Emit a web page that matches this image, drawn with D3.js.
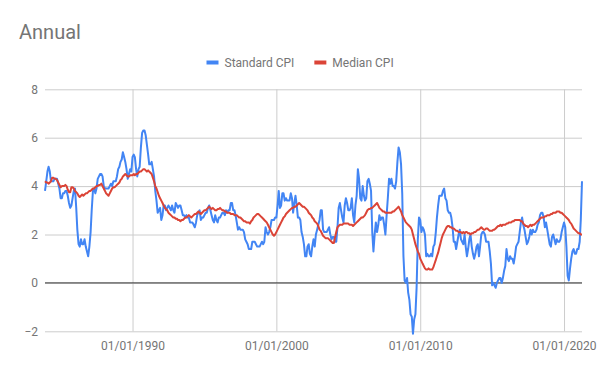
<!DOCTYPE html>
<html>
<head>
<meta charset="utf-8">
<script src="https://cdn.jsdelivr.net/npm/d3@7"></script>
<style>
  body { margin: 0; background: #fff; }
  svg { display: block; font-family: Roboto, Arial, sans-serif; }
</style>
</head>
<body>
<svg id="chart" width="600" height="371"></svg>
<script>
//-------------------Data----------------------------------------

var chartTitle = "Annual";
var seriesNames = ["Standard CPI", "Median CPI"];
var seriesColors = ["#4285F4", "#DB4437"];

// first month of the data, one value per month after that (Dec 1983 -> Apr 2021)
var firstMonth = new Date(1983, 11, 1);
var lastMonth = new Date(2021, 3, 1);

var standardCpi = [
    3.8,
    4.2, 4.6, 4.8, 4.6, 4.2, 4.2, 4.2, 4.3, 4.3, 4.3, 4.1, 3.9,
    3.5, 3.5, 3.7, 3.7, 3.8, 3.8, 3.6, 3.3, 3.1, 3.2, 3.5, 3.8,
    3.9, 3.1, 2.2, 1.6, 1.5, 1.8, 1.6, 1.6, 1.8, 1.5, 1.3, 1.1,
    1.5, 2.1, 3.0, 3.8, 3.9, 3.7, 3.9, 4.3, 4.4, 4.5, 4.5, 4.4,
    4.0, 3.9, 3.9, 3.9, 3.9, 4.0, 4.1, 4.0, 4.2, 4.2, 4.2, 4.4,
    4.7, 4.8, 5.0, 5.1, 5.4, 5.2, 5.0, 4.7, 4.3, 4.5, 4.7, 4.6,
    5.2, 5.3, 5.2, 4.7, 4.4, 4.7, 4.8, 5.6, 6.2, 6.3, 6.3, 6.1,
    5.7, 5.3, 4.9, 4.9, 5.0, 4.7, 4.4, 3.8, 3.4, 2.9, 3.0, 3.1,
    2.6, 2.8, 3.2, 3.2, 3.0, 3.1, 3.2, 3.1, 3.0, 3.2, 3.0, 2.9,
    3.3, 3.2, 3.1, 3.2, 3.2, 3.0, 2.8, 2.8, 2.7, 2.8, 2.7, 2.7,
    2.5, 2.5, 2.5, 2.4, 2.3, 2.5, 2.8, 2.9, 3.0, 2.6, 2.7, 2.7,
    2.8, 2.9, 2.9, 3.1, 3.2, 3.0, 2.8, 2.6, 2.5, 2.8, 2.6, 2.5,
    2.7, 2.7, 2.8, 2.9, 2.9, 2.8, 3.0, 2.9, 3.0, 3.0, 3.3, 3.3,
    3.0, 3.0, 2.8, 2.5, 2.2, 2.3, 2.2, 2.2, 2.2, 2.1, 1.8, 1.7,
    1.6, 1.4, 1.4, 1.4, 1.7, 1.7, 1.7, 1.6, 1.5, 1.5, 1.5, 1.6,
    1.7, 1.6, 1.7, 2.3, 2.1, 2.0, 2.1, 2.3, 2.6, 2.6, 2.6, 2.7,
    2.7, 3.2, 3.8, 3.1, 3.2, 3.7, 3.7, 3.4, 3.5, 3.4, 3.4, 3.4,
    3.7, 3.5, 2.9, 3.3, 3.6, 3.2, 2.7, 2.7, 2.6, 2.1, 1.9, 1.6,
    1.1, 1.1, 1.5, 1.6, 1.2, 1.1, 1.5, 1.8, 1.5, 2.0, 2.2, 2.4,
    2.6, 3.0, 3.0, 2.2, 2.1, 2.1, 2.1, 2.2, 2.3, 2.0, 1.8, 1.9,
    1.9, 1.7, 1.7, 2.3, 3.1, 3.3, 3.0, 2.7, 2.5, 3.2, 3.5, 3.3,
    3.0, 3.0, 3.1, 3.5, 2.8, 2.5, 3.2, 3.6, 4.7, 4.3, 3.5, 3.4,
    4.0, 3.6, 3.4, 3.5, 4.2, 4.3, 4.1, 3.8, 2.1, 1.3, 2.0, 2.5,
    2.1, 2.4, 2.8, 2.6, 2.7, 2.7, 2.4, 2.0, 2.8, 3.5, 4.3, 4.1,
    4.3, 4.0, 4.0, 3.9, 4.2, 5.0, 5.6, 5.4, 4.9, 3.7, 1.1, 0.1,
    0.0, 0.2, -0.4, -0.7, -1.3, -1.4, -2.1, -1.5, -1.3, -0.2, 1.8, 2.7,
    2.6, 2.1, 2.3, 2.2, 2.0, 1.1, 1.2, 1.1, 1.1, 1.2, 1.1, 1.5,
    1.6, 2.1, 2.7, 3.2, 3.6, 3.6, 3.6, 3.8, 3.9, 3.5, 3.4, 3.0,
    2.9, 2.9, 2.7, 2.3, 1.7, 1.7, 1.4, 1.7, 2.0, 2.2, 1.8, 1.7,
    1.6, 2.0, 1.5, 1.1, 1.4, 1.8, 2.0, 1.5, 1.2, 1.0, 1.2, 1.5,
    1.6, 1.1, 1.5, 2.0, 2.1, 2.1, 2.0, 1.7, 1.7, 1.7, 1.3, 0.8,
    -0.1, 0.0, -0.1, -0.2, 0.0, 0.1, 0.2, 0.2, 0.0, 0.2, 0.5, 0.7,
    1.4, 1.0, 0.9, 1.1, 1.0, 1.0, 0.8, 1.1, 1.5, 1.6, 1.7, 2.1,
    2.5, 2.7, 2.4, 2.2, 1.9, 1.6, 1.7, 1.9, 2.2, 2.0, 2.2, 2.1,
    2.1, 2.2, 2.4, 2.5, 2.8, 2.9, 2.9, 2.7, 2.3, 2.5, 2.2, 1.9,
    1.6, 1.5, 1.9, 2.0, 1.8, 1.6, 1.8, 1.7, 1.7, 1.8, 2.1, 2.3,
    2.5, 2.3, 1.5, 0.3, 0.1, 0.6, 1.0, 1.3, 1.4, 1.2, 1.2, 1.4,
    1.4, 1.7, 2.6, 4.2
];

var medianCpi = [
    4.2,
    4.15, 4.15, 4.1, 4.15, 4.2, 4.35, 4.35, 4.3, 4.3, 4.25, 4.15, 4.05,
    3.95, 4.0, 4.0, 4.0, 4.05, 4.0, 3.85, 3.75, 3.75, 3.95, 3.95, 3.9,
    3.8, 3.75, 3.7, 3.6, 3.55, 3.6, 3.65, 3.6, 3.65, 3.7, 3.7, 3.75,
    3.8, 3.8, 3.85, 3.9, 3.9, 3.95, 4.0, 4.0, 4.05, 4.05, 4.1, 4.0,
    3.9, 3.8, 3.7, 3.65, 3.6, 3.7, 3.8, 3.9, 3.95, 3.95, 4.0, 4.05,
    4.1, 4.15, 4.25, 4.3, 4.4, 4.45, 4.5, 4.45, 4.4, 4.4, 4.45, 4.45,
    4.45, 4.5, 4.45, 4.5, 4.5, 4.55, 4.6, 4.6, 4.65, 4.7, 4.7, 4.65,
    4.6, 4.65, 4.6, 4.55, 4.5, 4.35, 4.2, 4.0, 3.9, 3.75, 3.6, 3.5,
    3.4, 3.3, 3.2, 3.1, 3.05, 3.0, 2.9, 2.85, 2.8, 2.75, 2.7, 2.7,
    2.65, 2.65, 2.6, 2.6, 2.55, 2.6, 2.6, 2.65, 2.7, 2.7, 2.75, 2.8,
    2.75, 2.7, 2.75, 2.8, 2.85, 2.85, 2.9, 2.95, 2.9, 2.85, 2.9, 2.95,
    3.0, 3.0, 3.05, 3.1, 3.15, 3.1, 3.05, 3.1, 3.05, 3.0, 3.0, 3.05,
    3.05, 3.1, 3.05, 3.0, 3.0, 2.95, 2.95, 2.9, 2.9, 2.9, 2.85, 2.85,
    2.85, 2.8, 2.8, 2.8, 2.75, 2.7, 2.7, 2.65, 2.6, 2.55, 2.55, 2.5,
    2.5, 2.5, 2.45, 2.55, 2.6, 2.7, 2.75, 2.8, 2.85, 2.85, 2.8, 2.75,
    2.7, 2.65, 2.6, 2.55, 2.5, 2.4, 2.3, 2.2, 2.1, 2.0, 1.95, 2.0,
    2.1, 2.2, 2.3, 2.4, 2.5, 2.6, 2.7, 2.75, 2.85, 2.9, 2.95, 3.0,
    3.05, 3.1, 3.1, 3.15, 3.15, 3.2, 3.25, 3.3, 3.25, 3.2, 3.15, 3.15,
    3.1, 3.05, 3.0, 2.9, 2.85, 2.8, 2.7, 2.65, 2.55, 2.5, 2.45, 2.35,
    2.2, 2.15, 2.05, 1.95, 1.9, 1.85, 1.85, 1.85, 1.8, 1.75, 1.7, 1.65,
    1.65, 1.9, 2.1, 2.3, 2.35, 2.4, 2.4, 2.4, 2.45, 2.45, 2.45, 2.45,
    2.45, 2.4, 2.4, 2.4, 2.35, 2.4, 2.45, 2.5, 2.55, 2.6, 2.65, 2.7,
    2.7, 2.75, 2.8, 2.9, 3.0, 3.05, 3.05, 3.1, 3.1, 3.15, 3.2, 3.25,
    3.3, 3.2, 3.1, 3.05, 3.0, 2.95, 2.95, 2.9, 2.9, 2.9, 2.9, 2.9,
    2.9, 2.95, 2.95, 3.0, 3.05, 3.1, 3.15, 3.05, 2.95, 2.8, 2.7, 2.6,
    2.5, 2.45, 2.4, 2.35, 2.3, 2.2, 2.0, 1.8, 1.6, 1.45, 1.3, 1.2,
    1.0, 0.9, 0.8, 0.7, 0.6, 0.55, 0.55, 0.6, 0.55, 0.55, 0.55, 0.65,
    0.8, 0.95, 1.1, 1.25, 1.45, 1.65, 1.85, 2.0, 2.1, 2.2, 2.3, 2.35,
    2.35, 2.3, 2.3, 2.25, 2.25, 2.2, 2.15, 2.15, 2.1, 2.1, 2.1, 2.05,
    2.1, 2.05, 2.1, 2.1, 2.05, 2.05, 2.0, 2.05, 2.05, 2.1, 2.1, 2.15,
    2.2, 2.2, 2.25, 2.3, 2.25, 2.2, 2.2, 2.25, 2.25, 2.2, 2.15, 2.15,
    2.15, 2.2, 2.2, 2.25, 2.3, 2.35, 2.35, 2.4, 2.35, 2.4, 2.4, 2.4,
    2.45, 2.45, 2.5, 2.5, 2.5, 2.55, 2.55, 2.6, 2.6, 2.6, 2.6, 2.6,
    2.55, 2.55, 2.45, 2.4, 2.35, 2.35, 2.3, 2.35, 2.4, 2.35, 2.4, 2.4,
    2.45, 2.5, 2.55, 2.6, 2.65, 2.7, 2.7, 2.7, 2.75, 2.75, 2.8, 2.8,
    2.8, 2.85, 2.85, 2.9, 2.9, 2.9, 2.95, 2.95, 2.95, 2.9, 2.9, 2.85,
    2.8, 2.75, 2.7, 2.65, 2.6, 2.5, 2.45, 2.35, 2.25, 2.2, 2.15, 2.1,
    2.05, 2.05, 2.0, 2.0
];

var yTicks = [-2, 0, 2, 4, 6, 8];
var xTickDates = [new Date(1990, 0, 1), new Date(2000, 0, 1), new Date(2010, 0, 1), new Date(2020, 0, 1)];

//-------------------Chart----------------------------------------

function dessinerGraphique() {
    var svg = d3.select("#chart");
    var gauche = 45, droite = 582, haut = 89.3, bas = 331.3;
    var textGray = "#757575";

    var months = d3.timeMonth.range(firstMonth, d3.timeMonth.offset(lastMonth, 1));

    var x = d3.scaleTime()
        .domain([firstMonth, lastMonth])
        .range([gauche, droite]);

    var y = d3.scaleLinear()
        .domain([-2, 8])
        .range([bas, haut]);

    // title
    svg.append("text")
        .attr("x", 19)
        .attr("y", 39)
        .attr("font-size", 20)
        .attr("fill", textGray)
        .text(chartTitle);

    // legend
    var legend = svg.append("g").attr("transform", "translate(206.5,0)");
    var lx = 0;
    seriesNames.forEach(function(nom, i) {
        legend.append("rect")
            .attr("x", lx)
            .attr("y", 60.5)
            .attr("width", 12)
            .attr("height", 4)
            .attr("fill", seriesColors[i]);
        var t = legend.append("text")
            .attr("x", lx + 18)
            .attr("y", 67)
            .attr("font-size", 12)
            .attr("fill", textGray)
            .text(nom);
        lx += 18 + t.node().getComputedTextLength() + 20;
    });

    // horizontal grid + y labels
    var yAxis = svg.append("g")
        .attr("transform", "translate(" + gauche + ",0)")
        .call(d3.axisLeft(y).tickValues(yTicks).tickSize(-(droite - gauche)).tickPadding(7).tickFormat(d3.format("d")));
    yAxis.select(".domain").remove();
    yAxis.selectAll("line").attr("stroke", "#cccccc");
    yAxis.selectAll("text").attr("font-size", 12).attr("fill", textGray).attr("font-family", "Roboto, Arial, sans-serif");

    // vertical grid + x labels
    var xAxis = svg.append("g")
        .attr("transform", "translate(0," + bas + ")")
        .call(d3.axisBottom(x).tickValues(xTickDates).tickSize(-(bas - haut)).tickPadding(10).tickFormat(d3.timeFormat("%m/%d/%Y")));
    xAxis.select(".domain").remove();
    xAxis.selectAll("line").attr("stroke", "#cccccc");
    xAxis.selectAll("text").attr("font-size", 12).attr("fill", textGray).attr("font-family", "Roboto, Arial, sans-serif");

    // zero baseline
    svg.append("line")
        .attr("x1", gauche)
        .attr("x2", droite)
        .attr("y1", y(0))
        .attr("y2", y(0))
        .attr("stroke", "#333333")
        .attr("stroke-width", 1);

    // lines
    var line = d3.line()
        .x(function(d) { return x(d[0]); })
        .y(function(d) { return y(d[1]); });

    [standardCpi, medianCpi].forEach(function(serie, i) {
        var points = serie.map(function(v, k) { return [months[k], v]; });
        svg.append("path")
            .attr("d", line(points))
            .attr("fill", "none")
            .attr("stroke", seriesColors[i])
            .attr("stroke-width", 2)
            .attr("stroke-linejoin", "round");
    });
}

dessinerGraphique();
</script>
</body>
</html>
